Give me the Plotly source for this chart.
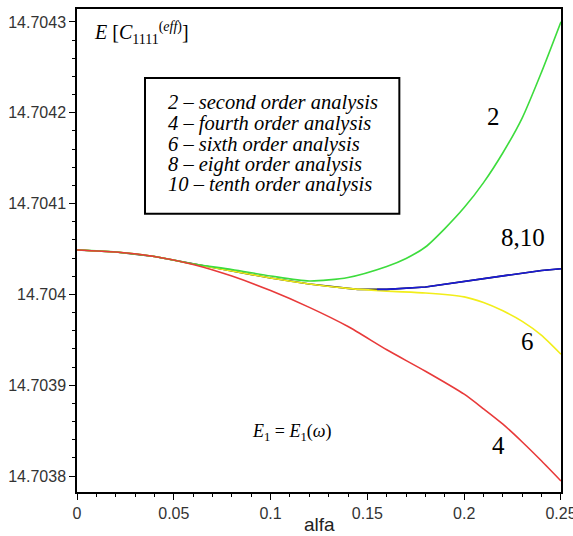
import plotly.graph_objects as go

# ---- data ----
alfa = [0, 0.02, 0.04, 0.06, 0.08, 0.1, 0.12, 0.14, 0.16, 0.18, 0.2, 0.21, 0.22, 0.23, 0.24, 0.25]

alfa_2 = [0, 0.02, 0.04, 0.06, 0.08, 0.1, 0.12, 0.14, 0.16, 0.17, 0.18, 0.19, 0.2, 0.21, 0.22, 0.23, 0.24, 0.25]
e_order2 = [14.7040489, 14.7040467, 14.7040418, 14.7040335, 14.7040275, 14.7040203, 14.7040148,
            14.7040187, 14.7040308, 14.7040396, 14.7040522, 14.7040725, 14.7040956, 14.7041231,
            14.7041560, 14.7041945, 14.7042451, 14.7043003]

e_order4 = [14.7040489, 14.7040467, 14.7040418, 14.7040330, 14.7040202, 14.7040042, 14.7039857,
            14.7039646, 14.7039390, 14.7039154, 14.7038901, 14.7038740, 14.7038571, 14.7038375,
            14.7038165, 14.7037945]

e_order6 = [14.7040489, 14.7040467, 14.7040418, 14.7040335, 14.7040258, 14.7040181, 14.7040115,
            14.7040066, 14.7040036, 14.7040016, 14.7039973, 14.7039910, 14.7039819, 14.7039703,
            14.7039549, 14.7039341]

alfa_8 = [0, 0.02, 0.04, 0.06, 0.08, 0.1, 0.12, 0.14, 0.145, 0.155, 0.16, 0.18, 0.2, 0.22, 0.24, 0.25]
e_order8 = [14.7040489, 14.7040467, 14.7040418, 14.7040335, 14.7040258, 14.7040181, 14.7040115,
            14.7040066, 14.7040055, 14.7040055, 14.7040055, 14.7040082, 14.7040143, 14.7040203,
            14.7040264, 14.7040282]

alfa_10 = [0.155, 0.16, 0.18, 0.2, 0.22, 0.24, 0.25]
e_order10 = [14.7040055, 14.7040055, 14.7040082, 14.7040143, 14.7040203, 14.7040264, 14.7040282]

x_ticks = [0, 0.05, 0.1, 0.15, 0.2, 0.25]
x_ticktext = ["0", "0.05", "0.1", "0.15", "0.2", "0.25"]
y_ticks = [14.7038, 14.7039, 14.704, 14.7041, 14.7042, 14.7043]
y_ticktext = ["14.7038", "14.7039", "14.704", "14.7041", "14.7042", "14.7043"]

legend_lines = ["2 \u2013 second order analysis",
                "4 \u2013 fourth order analysis",
                "6 \u2013 sixth order analysis",
                "8 \u2013 eight order analysis",
                "10 \u2013 tenth order analysis"]

fig = go.Figure()
lw = 1.6
fig.add_trace(go.Scatter(x=alfa_8, y=e_order8, mode="lines", line=dict(color="#111111", width=lw), name="8"))
fig.add_trace(go.Scatter(x=alfa, y=e_order6, mode="lines", line=dict(color="#f2ee1a", width=lw, shape="spline", smoothing=0.6), name="6"))
fig.add_trace(go.Scatter(x=alfa_10, y=e_order10, mode="lines", line=dict(color="#1a1ad8", width=lw), name="10"))
fig.add_trace(go.Scatter(x=alfa_2, y=e_order2, mode="lines", line=dict(color="#3ddc3d", width=lw, shape="spline", smoothing=0.7), name="2"))
fig.add_trace(go.Scatter(x=alfa, y=e_order4, mode="lines", line=dict(color="#e83a3a", width=lw, shape="spline", smoothing=0.6), name="4"))

tickfont = dict(family="Liberation Sans, Arial", size=16, color="#333333")

fig.update_xaxes(range=[0, 0.25001], tickvals=x_ticks, ticktext=x_ticktext, ticks="outside", ticklen=6,
                 tickcolor="black", showline=True, linecolor="black", linewidth=1.5, mirror=True,
                 showgrid=False, zeroline=False, tickfont=tickfont, automargin=False,
                 ticklabeloverflow="allow",
                 minor=dict(dtick=0.01, ticks="outside", ticklen=3, tickcolor="black"))
fig.update_yaxes(range=[14.7037824, 14.7043143], tickvals=y_ticks, ticktext=y_ticktext, ticks="outside", ticklen=6,
                 tickcolor="black", showline=True, linecolor="black", linewidth=1.5, mirror=True,
                 showgrid=False, zeroline=False, tickfont=tickfont, automargin=False,
                 ticklabeloverflow="allow",
                 minor=dict(dtick=0.00002, ticks="outside", ticklen=3, tickcolor="black"))

serif = "Liberation Serif, Times New Roman"
ann = []
ann.append(dict(x=0.5, y=-0.068, xref="paper", yref="paper", xanchor="center", yanchor="middle",
                text="alfa", showarrow=False, font=dict(family="Liberation Sans, Arial", size=19, color="#222222")))
ann.append(dict(x=0.031, y=0.951, xref="paper", yref="paper", xanchor="left", yanchor="middle",
                text="<i>E</i> [<i>C</i><sub>1111</sub><sup>(<i>eff</i>)</sup>]", showarrow=False,
                font=dict(family=serif, size=20, color="black")))
legend_y = [0.806, 0.763, 0.720, 0.678, 0.636]
for t, yy in zip(legend_lines, legend_y):
    ann.append(dict(x=0.184, y=yy, xref="paper", yref="paper", xanchor="left", yanchor="middle",
                    text="<i>" + t + "</i>", showarrow=False, font=dict(family=serif, size=20.5, color="black")))
for t, xx, yy in [("2", 0.860, 0.777), ("8,10", 0.921, 0.526), ("6", 0.930, 0.311), ("4", 0.870, 0.097)]:
    ann.append(dict(x=xx, y=yy, xref="paper", yref="paper", xanchor="center", yanchor="middle",
                    text=t, showarrow=False, font=dict(family=serif, size=25, color="black")))
ann.append(dict(x=0.444, y=0.124, xref="paper", yref="paper", xanchor="center", yanchor="middle",
                text="<i>E</i><sub>1</sub> = <i>E</i><sub>1</sub>(<i>\u03c9</i>)", showarrow=False,
                font=dict(family=serif, size=18, color="black")))

fig.update_layout(
    width=573, height=536,
    margin=dict(l=77, r=12, t=9, b=44),
    paper_bgcolor="white", plot_bgcolor="white",
    showlegend=False,
    annotations=ann,
    shapes=[dict(type="rect", xref="paper", yref="paper", x0=0.1405, x1=0.666, y0=0.576, y1=0.857,
                 line=dict(color="black", width=2))],
)

fig.write_html("out.html", config={"displayModeBar": False},
               post_script="document.body.style.margin='0';document.body.style.overflow='hidden';")
